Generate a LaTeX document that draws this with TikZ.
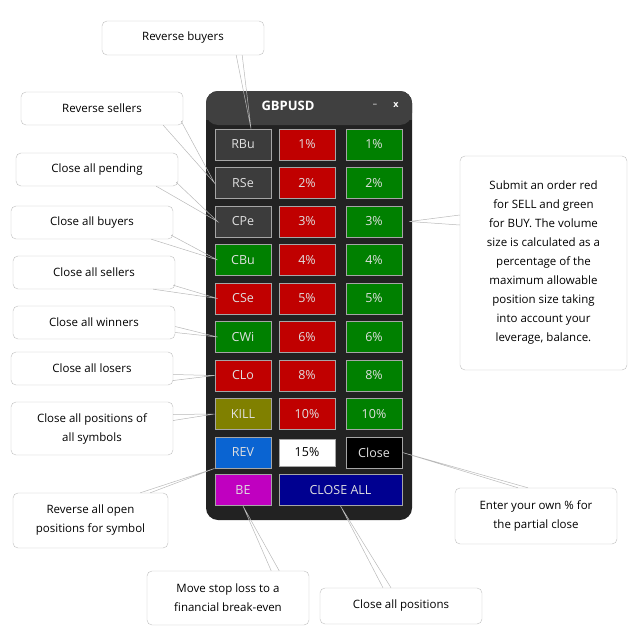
\documentclass[tikz,border=0pt]{standalone}
\usepackage{fontspec}
\setmainfont{Open Sans}
\usetikzlibrary{calc}
\definecolor{panel}{HTML}{222222}
\definecolor{bgray}{HTML}{3C3C3C}
\definecolor{bred}{HTML}{C00000}
\definecolor{bgreen}{HTML}{008000}
\definecolor{bolive}{HTML}{808000}
\definecolor{bblue}{HTML}{0A64D2}
\definecolor{bmag}{HTML}{C000C0}
\definecolor{bnavy}{HTML}{000090}
\definecolor{txt}{HTML}{E0E0E0}
\tikzset{
  btn/.style={draw=gray!70, line width=1pt, text=txt, font=\fontsize{12.5}{14}\selectfont,
    minimum width=56pt, minimum height=31pt, inner sep=0pt},
  note/.style={draw=gray!50, rounded corners=5pt, fill=white, align=center,
    font=\fontsize{11.5}{19}\selectfont, inner sep=2pt},
  pointer/.style={draw=gray!55, line width=.5pt}
}
\begin{document}
\begin{tikzpicture}[x=1pt,y=-1pt]
   \useasboundingbox (0,0) rectangle (633,642);

   % panel
   \fill[panel, rounded corners=12pt] (206,91) rectangle (412,520);
   \fill[black!75, rounded corners=12pt] (206,91) rectangle (412,125);
   \fill[black!75] (206,110) rectangle (412,120);
   \node[text=white, font=\bfseries\fontsize{13}{14}\selectfont] (title) at (288,106) {GBPUSD};
   \node[text=white, font=\bfseries\small] (minbtn) at (375,104) {\_};
   \node[text=white, font=\bfseries\small] (xbtn) at (396,105) {x};

   % button grid
   \foreach \lbl/\col [count=\r from 0] in {RBu/bgray,RSe/bgray,CPe/bgray,CBu/bgreen,CSe/bred,CWi/bgreen,CLo/bred,KILL/bolive}
     \node[btn, fill=\col] (L\r) at (243,144.5+38.5*\r) {\lbl};
   \foreach \p [count=\r from 0] in {1,2,3,4,5,6,8,10} {
     \node[btn, fill=bred] (S\r) at (307,144.5+38.5*\r) {\p\%};
     \node[btn, fill=bgreen] (B\r) at (374,144.5+38.5*\r) {\p\%};
   }
   \node[btn, fill=bblue] (rev) at (243,452.5) {REV};
   \node[btn, fill=white, text=black, minimum height=27pt] (pct) at (307,452.5) {15\%};
   \node[btn, fill=black] (close) at (374,452.5) {Close};
   \node[btn, fill=bmag] (be) at (243,490) {BE};
   \node[btn, fill=bnavy, minimum width=123pt] (closeall) at (340.5,490) {CLOSE ALL};

   % notes
   \node[note, minimum width=162pt, minimum height=34pt] (n1) at (183,38) {Reverse buyers};
   \node[note, minimum width=162pt, minimum height=33pt] (n2) at (102,108.5) {Reverse sellers};
   \node[note, minimum width=162pt, minimum height=33pt] (n3) at (97,169.5) {Close all pending};
   \node[note, minimum width=162pt, minimum height=33pt] (n4) at (92,222.5) {Close all buyers};
   \node[note, minimum width=162pt, minimum height=33pt] (n5) at (94,272.5) {Close all sellers};
   \node[note, minimum width=162pt, minimum height=33pt] (n6) at (94,322.5) {Close all winners};
   \node[note, minimum width=162pt, minimum height=33pt] (n7) at (92,368.5) {Close all losers};
   \node[note, minimum width=162pt, minimum height=53pt] (n8) at (92,428.5) {Close all positions of\\all symbols};
   \node[note, minimum width=155pt, minimum height=55pt] (n9) at (90.5,520.5) {Reverse all open\\positions for symbol};
   \node[note, minimum width=162pt, minimum height=54pt] (n10) at (228,598) {Move stop loss to a\\financial break-even};
   \node[note, minimum width=162pt, minimum height=36pt] (n11) at (401,606) {Close all positions};
   \node[note, minimum width=162pt, minimum height=56pt] (n12) at (536,516) {Enter your own \% for\\the partial close};
   \node[note, minimum width=167pt, minimum height=214pt] (n13) at (543.5,263)
     {Submit an order red\\for SELL and green\\for BUY. The volume\\size is calculated as a\\percentage of the\\maximum allowable\\position size taking\\into account your\\leverage, balance.};

   % pointers
   \draw[pointer] ($(n1.south east)+(-22,0)$) -- ($(L0.north)+(8,0)$) -- ($(n1.south east)+(-28,0)$);
   \draw[pointer] ($(n2.south east)+(-20,0)$) -- (L1.west) -- ($(n2.south east)+(-2,-4)$);
   \draw[pointer] ($(n3.south east)+(-22,0)$) -- ($(L2.west)+(3,0)$) -- ($(n3.south east)+(-2,-4)$);
   \draw[pointer] ($(n4.south east)+(-22,0)$) -- ($(L3.west)+(3,0)$) -- ($(n4.south east)+(-2,-4)$);
   \draw[pointer] ($(n5.south east)+(-22,0)$) -- ($(L4.west)+(3,0)$) -- ($(n5.south east)+(-2,-4)$);
   \draw[pointer] ($(n6.east)+(0,4)$) -- ($(L5.west)+(3,0)$) -- ($(n6.east)+(0,10)$);
   \draw[pointer] ($(n7.east)+(0,6)$) -- (L6.west) -- ($(n7.east)+(0,12)$);
   \draw[pointer] ($(n8.east)+(0,-14)$) -- (L7.west) -- ($(n8.east)+(0,-8)$);
   \draw[pointer] ($(n9.north east)+(-28,0)$) -- (rev.south west) -- ($(n9.north east)+(-18,0)$);
   \draw[pointer] ($(n10.north east)+(-38,0)$) -- (be.south) -- ($(n10.north east)+(-30,0)$);
   \draw[pointer] ($(n11.north)+(-18,0)$) -- (closeall.south) -- ($(n11.north)+(-10,0)$);
   \draw[pointer] ($(n12.north)+(-18,0)$) -- (close.east) -- ($(n12.north)+(-8,0)$);
   \draw[pointer] ($(n13.west)+(0,-48)$) -- ($(B2.east)+(7,0)$) -- ($(n13.west)+(0,-38)$);
\end{tikzpicture}
\end{document}
